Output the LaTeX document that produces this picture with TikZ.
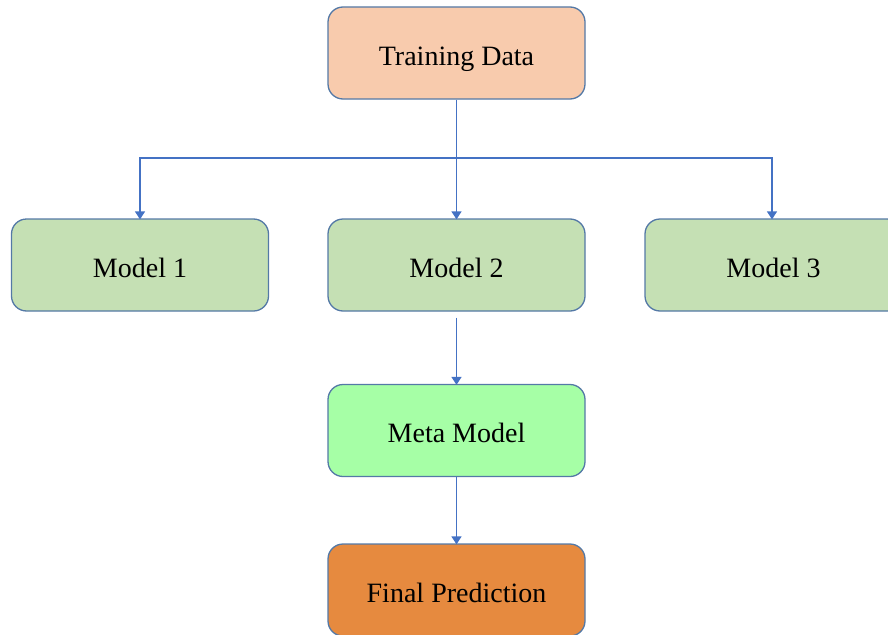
\documentclass[tikz,border=0pt]{standalone}
\usepackage{fontspec}
\setmainfont{Liberation Serif}
\usetikzlibrary{arrows.meta}
\definecolor{edgeblue}{HTML}{4472C4}
\definecolor{boxline}{HTML}{5479A6}
\definecolor{datafill}{HTML}{F8CBAD}
\definecolor{modelfill}{HTML}{C5E0B4}
\definecolor{metafill}{HTML}{A6FFA6}
\definecolor{finalfill}{HTML}{E68A3F}
\tikzset{
  stagebox/.style={draw=boxline, line width=1.3pt, rounded corners=15pt,
    minimum width=257pt, minimum height=92pt, inner sep=0pt,
    text height=24pt, text depth=0pt,
    font=\fontsize{28}{33}\selectfont, text=black},
  link/.style={draw=edgeblue, line width=1.4pt,
    -{Triangle[width=10pt,length=8pt]}}
}
\begin{document}
\begin{tikzpicture}[x=1pt,y=-1pt]
  \useasboundingbox (0,0) rectangle (888,634);
  % the stages of the stacking ensemble
  \node[stagebox, fill=datafill]  (td) at (456.5,53)  {Training Data};
  \node[stagebox, fill=modelfill] (m1) at (140,265)   {Model 1};
  \node[stagebox, fill=modelfill] (m2) at (456.5,265) {Model 2};
  \node[stagebox, fill=modelfill] (m3) at (773.5,265) {Model 3};
  \node[stagebox, fill=metafill]  (mm) at (456.5,430.5) {Meta Model};
  \node[stagebox, fill=finalfill] (fp) at (456.5,590) {Final Prediction};
  % branch level shared by the three models
  \coordinate (branch) at (456.5,158);
  % connectors
  \draw[link] (td.south) -- ([yshift=-1pt]m2.north);
  \draw[link] (branch) -| ([yshift=-1pt]m1.north);
  \draw[link] (branch) -| ([xshift=-1.5pt,yshift=-1pt]m3.north);
  \draw[link, shorten <=6pt] (m2.south) -- ([yshift=-1pt]mm.north);
  \draw[link] (mm.south) -- ([yshift=-1pt]fp.north);
\end{tikzpicture}
\end{document}
